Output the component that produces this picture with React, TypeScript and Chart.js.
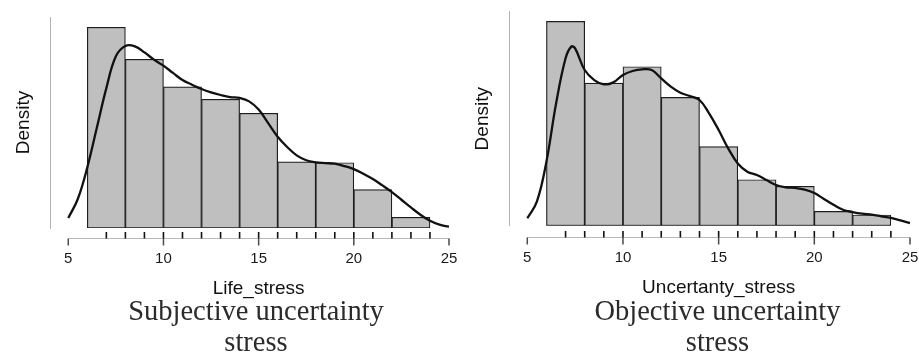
import React, { useEffect, useRef } from "react";
import { Chart, registerables } from "chart.js";

Chart.register(...registerables);
Chart.defaults.font.family = "'Liberation Sans', Arial, sans-serif";

// ---------- data ----------
const binEdges = [6, 8, 10, 12, 14, 16, 18, 20, 22, 24];
const xTicks = [5, 10, 15, 20, 25];

// Subjective uncertainty stress (Life_stress)
const lifeBars = [0.1073, 0.0902, 0.0755, 0.0688, 0.0613, 0.0354, 0.0349, 0.0205, 0.0057];
const lifeCurveX = [5, 5.5, 6, 6.5, 7, 7.5, 8, 8.5, 9, 9.5, 10, 10.5, 11, 11.5, 12, 12.5, 13, 13.5, 14, 14.5, 15, 15.5, 16, 16.5, 17, 17.5, 18, 18.5, 19, 19.5, 20, 20.5, 21, 21.5, 22, 22.5, 23, 23.5, 24, 24.5, 25];
const lifeCurveY = [0.0053, 0.0155, 0.0324, 0.0536, 0.0748, 0.0918, 0.0973, 0.0971, 0.0939, 0.0900, 0.0868, 0.0829, 0.0791, 0.0766, 0.0743, 0.0725, 0.0711, 0.0700, 0.0695, 0.0677, 0.0633, 0.0561, 0.0488, 0.0433, 0.0388, 0.0362, 0.0351, 0.0347, 0.0344, 0.0331, 0.0315, 0.0290, 0.0262, 0.0228, 0.0192, 0.0151, 0.0110, 0.0071, 0.0039, 0.0018, 0.0007];
const lifeRug = [7, 8, 9, 10, 11, 12, 13, 14, 15, 16, 17, 18, 19, 20, 21, 22, 23, 24];

// Objective uncertainty stress (Uncertanty_stress)
const uncBars = [0.1240, 0.0866, 0.0965, 0.0779, 0.0480, 0.0279, 0.0239, 0.0087, 0.0065];
const uncCurveX = [5, 5.5, 6, 6.5, 7, 7.3, 7.5, 8, 8.5, 9, 9.5, 10, 10.5, 11, 11.5, 12, 12.5, 13, 13.5, 14, 14.5, 15, 15.5, 16, 16.5, 17, 17.5, 18, 18.5, 19, 19.5, 20, 20.5, 21, 21.5, 22, 22.5, 23, 23.5, 24, 24.5, 25];
const uncCurveY = [0.0045, 0.0146, 0.0389, 0.0739, 0.1016, 0.1087, 0.1076, 0.0945, 0.0884, 0.0858, 0.0870, 0.0915, 0.0939, 0.0949, 0.0945, 0.0894, 0.0844, 0.0807, 0.0787, 0.0763, 0.0682, 0.0581, 0.0469, 0.0378, 0.0328, 0.0308, 0.0277, 0.0247, 0.0233, 0.0229, 0.0219, 0.0198, 0.0162, 0.0127, 0.0097, 0.0083, 0.0073, 0.0067, 0.0057, 0.0047, 0.0032, 0.0016];
const uncRug = [7, 8, 9, 10, 11, 12, 13, 14, 15, 16, 17, 18, 19, 20, 21, 22, 23, 24];

// ---------- plugin: R-style detached x axis with rug + x title ----------
const histAxisPlugin = {
  id: "histAxis",
  afterDraw(chart: any, _args: any, opts: any) {
    const { ctx, chartArea } = chart;
    const xs = chart.scales.x;
    const ay = Math.round(chartArea.bottom + opts.gap) + 0.5;
    const x0 = xs.getPixelForValue(xTicks[0]);
    const x1 = xs.getPixelForValue(xTicks[xTicks.length - 1]);
    ctx.save();
    ctx.strokeStyle = "#b8b8b8";
    ctx.lineWidth = 1;
    ctx.beginPath();
    ctx.moveTo(x0, ay);
    ctx.lineTo(x1, ay);
    ctx.stroke();
    ctx.strokeStyle = "#4a4a4a";
    ctx.lineWidth = 1.5;
    for (const v of xTicks) {
      const p = xs.getPixelForValue(v);
      ctx.beginPath();
      ctx.moveTo(p, ay);
      ctx.lineTo(p, ay + 7);
      ctx.stroke();
    }
    ctx.strokeStyle = "#111";
    ctx.lineWidth = 1.6;
    for (const v of opts.rug) {
      const p = xs.getPixelForValue(v);
      ctx.beginPath();
      ctx.moveTo(p, ay - 6.5);
      ctx.lineTo(p, ay);
      ctx.stroke();
    }
    ctx.fillStyle = "#111";
    ctx.font = "19px 'Liberation Sans', Arial, sans-serif";
    ctx.textAlign = "center";
    ctx.textBaseline = "alphabetic";
    ctx.fillText(opts.title, (x0 + x1) / 2, chartArea.bottom + opts.titleBaseline);
    ctx.restore();
  },
};

type PanelProps = {
  bars: number[];
  curveX: number[];
  curveY: number[];
  rug: number[];
  xTitle: string;
  yMax: number;
  xMin: number;
  width: number;
  height: number;
  padTop: number;
  padRight: number;
  yAxisWidth: number;
  plotBottom: number;
  tickPad: number;
  axisGap: number;
  titleBaseline: number;
  yTitlePad: number;
  left: number;
};

function Panel(p: PanelProps) {
  const ref = useRef<HTMLCanvasElement | null>(null);
  useEffect(() => {
    if (!ref.current) return;
    const chart = new Chart(ref.current, {
      type: "bar",
      data: {
        datasets: [
          {
            type: "line",
            data: p.curveX.map((x, i) => ({ x, y: p.curveY[i] })),
            borderColor: "#111",
            borderWidth: 2.3,
            pointRadius: 0,
            tension: 0.4,
            fill: false,
            order: 0,
          } as any,
          {
            type: "bar",
            data: p.bars.map((y, i) => ({ x: (binEdges[i] + binEdges[i + 1]) / 2, y })),
            backgroundColor: "#bfbfbf",
            borderColor: "#1e1e1e",
            borderWidth: 1.2,
            borderSkipped: false,
            barPercentage: 1,
            categoryPercentage: 1,
            order: 1,
          } as any,
        ],
      },
      options: {
        responsive: false,
        animation: false,
        layout: { padding: { top: p.padTop, left: 0, right: p.padRight, bottom: 0 } },
        plugins: {
          legend: { display: false },
          tooltip: { enabled: false },
          histAxis: { rug: p.rug, title: p.xTitle, gap: p.axisGap, titleBaseline: p.titleBaseline },
        } as any,
        scales: {
          x: {
            type: "linear",
            min: p.xMin,
            max: 25,
            offset: false,
            grid: { display: false, drawTicks: false },
            border: { display: false },
            afterBuildTicks: (s: any) => {
              s.ticks = xTicks.map((v) => ({ value: v }));
            },
            ticks: {
              font: { size: 15 },
              color: "#1a1a1a",
              padding: p.tickPad,
              maxRotation: 0,
              autoSkip: false,
            },
            afterFit: (s: any) => {
              s.height = p.height - p.plotBottom;
              s.paddingLeft = 0;
              s.paddingRight = 0;
            },
          },
          y: {
            type: "linear",
            min: 0,
            max: p.yMax,
            grid: { display: false, drawTicks: false },
            border: { display: true, color: "#b3b3b3", width: 1 },
            ticks: { display: false },
            title: {
              display: true,
              text: "Density",
              font: { size: 19 },
              color: "#111",
              padding: { top: p.yTitlePad, bottom: 0 },
            },
            afterFit: (s: any) => {
              s.width = p.yAxisWidth;
              s.paddingTop = 0;
              s.paddingBottom = 0;
            },
          },
        },
      } as any,
      plugins: [histAxisPlugin as any],
    });
    return () => chart.destroy();
  }, []);
  return (
    <canvas
      ref={ref}
      width={p.width}
      height={p.height}
      style={{ position: "absolute", left: p.left, top: 0, width: p.width, height: p.height }}
    />
  );
}

const captionStyle = (cx: number): React.CSSProperties => ({
  position: "absolute",
  left: cx - 200,
  width: 400,
  top: 294.5,
  textAlign: "center",
  fontFamily: "'Liberation Serif', 'Times New Roman', serif",
  fontSize: 28.5,
  lineHeight: "31.7px",
  color: "#2b2b2b",
});

export default function App() {
  return (
    <div style={{ position: "absolute", left: 0, top: 0, width: 919, height: 354, background: "#fff", overflow: "hidden" }}>
      <Panel
        bars={lifeBars}
        curveX={lifeCurveX}
        curveY={lifeCurveY}
        rug={lifeRug}
        xTitle="Life_stress"
        yMax={0.1128}
        xMin={4.04}
        width={460}
        height={300}
        padTop={17}
        padRight={11}
        yAxisWidth={50}
        plotBottom={228}
        tickPad={21.5}
        axisGap={10.3}
        titleBaseline={66}
        yTitlePad={12}
        left={0}
      />
      <Panel
        bars={uncBars}
        curveX={uncCurveX}
        curveY={uncCurveY}
        rug={uncRug}
        xTitle="Uncertanty_stress"
        yMax={0.1299}
        xMin={4.044}
        width={459}
        height={300}
        padTop={11.7}
        padRight={9}
        yAxisWidth={49}
        plotBottom={225.7}
        tickPad={23.6}
        axisGap={11}
        titleBaseline={67.6}
        yTitlePad={11}
        left={460}
      />
      <div style={captionStyle(256)}>
        Subjective uncertainty
        <br />
        stress
      </div>
      <div style={captionStyle(717.5)}>
        Objective uncertainty
        <br />
        stress
      </div>
    </div>
  );
}
